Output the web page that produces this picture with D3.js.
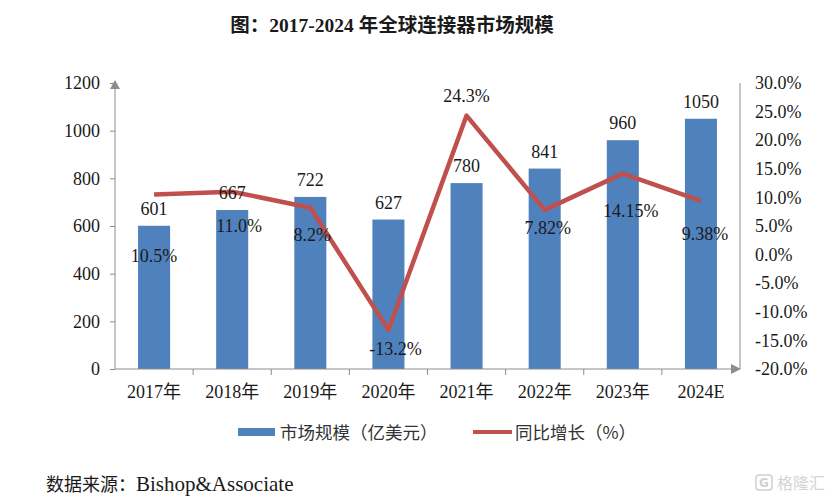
<!DOCTYPE html>
<html>
<head>
<meta charset="utf-8">
<script src="https://cdn.jsdelivr.net/npm/d3@7"></script>
<style>
  body { margin: 0; background: #fff; }
  svg { display: block; }
</style>
</head>
<body>
<svg id="chart" width="831" height="504"></svg>
<script>
const years = ["2017年", "2018年", "2019年", "2020年", "2021年", "2022年", "2023年", "2024E"];
const marketSize = [601, 667, 722, 627, 780, 841, 960, 1050];
const growth = [10.5, 11.0, 8.2, -13.2, 24.3, 7.82, 14.15, 9.38];
const growthLabels = ["10.5%", "11.0%", "8.2%", "-13.2%", "24.3%", "7.82%", "14.15%", "9.38%"];
const leftTicks = [0, 200, 400, 600, 800, 1000, 1200];
const rightTicks = [-20, -15, -10, -5, 0, 5, 10, 15, 20, 25, 30];

// where each growth label sits relative to its point (label placement only)
const growthLabelOffsets = [[0, 67], [7, 40], [2, 33], [7, 25], [0, -14], [3, 24], [8, 43], [4, 39]];

const serif = "'Liberation Serif', 'Times New Roman', serif";
const cjk = "'Liberation Serif', 'Noto Sans CJK SC', serif";
const axisColor = "#8c8c8c";
const barColor = "#4F81BD";
const lineColor = "#C0504D";

const svg = d3.select("#chart");

const x = d3.scaleBand().domain(years).range([115, 740]).paddingInner(0.59).paddingOuter(0.295);
const yLeft = d3.scaleLinear().domain([0, 1200]).range([369, 83]);
const yRight = d3.scaleLinear().domain([-20, 30]).range([369, 83]);
const cx = (d) => x(d) + x.bandwidth() / 2;

// title
svg.append("text")
  .attr("x", 392)
  .attr("y", 32)
  .attr("text-anchor", "middle")
  .attr("fill", "#1a1a1a")
  .style("font-family", cjk)
  .style("font-weight", "bold")
  .style("font-size", "19.5px")
  .text("图：2017-2024 年全球连接器市场规模");

// bars
svg.append("g")
  .selectAll("rect")
  .data(marketSize)
  .join("rect")
  .attr("x", (d, i) => x(years[i]))
  .attr("y", (d) => yLeft(d))
  .attr("width", x.bandwidth())
  .attr("height", (d) => yLeft(0) - yLeft(d))
  .attr("fill", barColor);

// left axis
const leftAxis = svg.append("g")
  .attr("transform", "translate(115,0)")
  .call(d3.axisLeft(yLeft).tickValues(leftTicks).tickSize(5).tickPadding(10).tickFormat(d3.format("d")));
leftAxis.select(".domain").attr("stroke", axisColor).attr("d", "M0,369V86");
leftAxis.selectAll(".tick line").attr("stroke", axisColor);
leftAxis.selectAll(".tick text")
  .attr("fill", "#1a1a1a")
  .style("font-family", serif)
  .style("font-size", "18px");
svg.append("path")
  .attr("d", "M115,80L110,89L120,89Z")
  .attr("fill", axisColor);

// right axis
const rightAxis = svg.append("g")
  .attr("transform", "translate(740,0)")
  .call(d3.axisRight(yRight).tickValues(rightTicks).tickSize(0).tickPadding(15).tickFormat((d) => d.toFixed(1) + "%"));
rightAxis.select(".domain").attr("stroke", axisColor).attr("d", "M0,369V83");
rightAxis.selectAll(".tick text")
  .attr("fill", "#1a1a1a")
  .style("font-family", serif)
  .style("font-size", "18px");

// bottom axis
const bottomAxis = svg.append("g")
  .attr("transform", "translate(0,369)")
  .call(d3.axisBottom(x).tickSize(0).tickPadding(16));
bottomAxis.select(".domain").attr("stroke", axisColor).attr("d", "M115,0H734");
bottomAxis.selectAll(".tick text")
  .attr("fill", "#1a1a1a")
  .style("font-family", cjk)
  .style("font-size", "18px");
bottomAxis.selectAll(".boundary")
  .data(d3.range(1, years.length))
  .join("line")
  .attr("class", "boundary")
  .attr("x1", (i) => x.range()[0] + i * x.step())
  .attr("x2", (i) => x.range()[0] + i * x.step())
  .attr("y1", 0)
  .attr("y2", 6)
  .attr("stroke", axisColor);
svg.append("path")
  .attr("d", "M741,369L731,364L731,374Z")
  .attr("fill", axisColor);

// growth line
const line = d3.line()
  .x((d, i) => cx(years[i]))
  .y((d) => yRight(d));

svg.append("path")
  .datum(growth)
  .attr("d", line)
  .attr("fill", "none")
  .attr("stroke", lineColor)
  .attr("stroke-width", 4.5)
  .attr("stroke-linejoin", "round");

// bar value labels
svg.append("g")
  .selectAll("text")
  .data(marketSize)
  .join("text")
  .attr("x", (d, i) => cx(years[i]))
  .attr("y", (d) => yLeft(d) - 11)
  .attr("text-anchor", "middle")
  .attr("fill", "#1a1a1a")
  .style("font-family", serif)
  .style("font-size", "18px")
  .text((d) => d);

// growth labels
svg.append("g")
  .selectAll("text")
  .data(growth)
  .join("text")
  .attr("x", (d, i) => cx(years[i]) + growthLabelOffsets[i][0])
  .attr("y", (d, i) => yRight(d) + growthLabelOffsets[i][1])
  .attr("text-anchor", "middle")
  .attr("fill", "#1a1a1a")
  .style("font-family", serif)
  .style("font-size", "18px")
  .text((d, i) => growthLabels[i]);

// legend
const legend = svg.append("g").style("font-family", "'Noto Sans CJK SC', sans-serif").style("font-size", "17.5px").attr("fill", "#333");
legend.append("rect").attr("x", 238).attr("y", 428).attr("width", 37).attr("height", 8).attr("fill", barColor);
legend.append("text").attr("x", 280).attr("y", 439).text("市场规模（亿美元）");
legend.append("line").attr("x1", 473).attr("x2", 512).attr("y1", 432).attr("y2", 432)
  .attr("stroke", lineColor).attr("stroke-width", 4);
legend.append("text").attr("x", 515).attr("y", 439).text("同比增长（%）");

// source note
const source = svg.append("text")
  .attr("x", 46)
  .attr("y", 491)
  .attr("fill", "#1a1a1a");
source.append("tspan").style("font-family", "'Noto Sans CJK SC', sans-serif").style("font-size", "18px").text("数据来源：");
source.append("tspan").style("font-family", serif).style("font-size", "21px").text("Bishop&Associate");

// watermark
const mark = svg.append("g").attr("fill", "none").attr("stroke", "#cfcfcf");
mark.append("rect").attr("x", 756).attr("y", 475).attr("width", 16).attr("height", 15).attr("rx", 3).attr("stroke-width", 1.5);
mark.append("text")
  .attr("x", 764)
  .attr("y", 487)
  .attr("text-anchor", "middle")
  .attr("fill", "#cfcfcf")
  .attr("stroke", "none")
  .style("font-family", "'DejaVu Sans', sans-serif")
  .style("font-weight", "bold")
  .style("font-size", "12px")
  .text("G");
mark.append("text")
  .attr("x", 777)
  .attr("y", 489)
  .attr("fill", "#d4d4d4")
  .attr("stroke", "none")
  .style("font-family", "'Noto Sans CJK SC', sans-serif")
  .style("font-size", "16px")
  .text("格隆汇");
</script>
</body>
</html>
